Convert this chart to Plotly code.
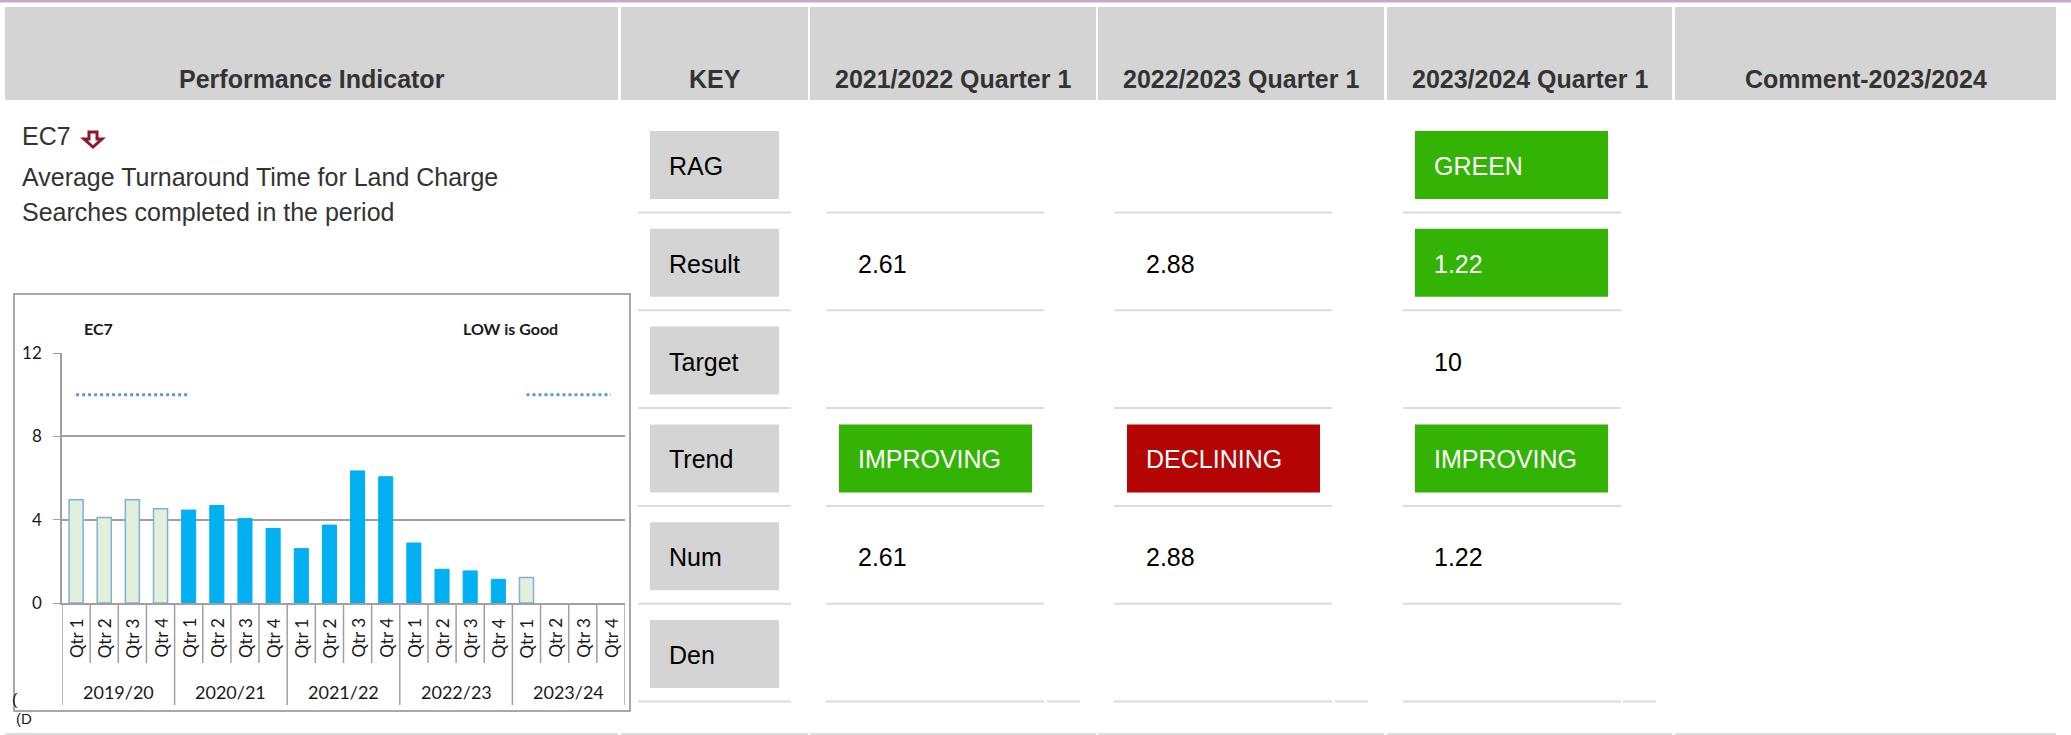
import plotly.graph_objects as go

W, H = 2071, 735

# ---- table data ----
header_labels = ["Performance Indicator", "KEY", "2021/2022 Quarter 1",
                 "2022/2023 Quarter 1", "2023/2024 Quarter 1", "Comment-2023/2024"]
indicator_code = "EC7"
indicator_desc = ["Average Turnaround Time for Land Charge",
                  "Searches completed in the period"]
key_labels = ["RAG", "Result", "Target", "Trend", "Num", "Den"]
rag = [None, None, "GREEN"]
result = ["2.61", "2.88", "1.22"]
target = [None, None, "10"]
trend = ["IMPROVING", "DECLINING", "IMPROVING"]
num = ["2.61", "2.88", "1.22"]
den = [None, None, None]

# ---- inset chart data ----
years = ["2019/20", "2020/21", "2021/22", "2022/23", "2023/24"]
quarters = ["Qtr 1", "Qtr 2", "Qtr 3", "Qtr 4"]
baseline_vals = [4.95, 4.1, 4.95, 4.52, None, None, None, None, None, None,
                 None, None, None, None, None, None, 1.22, None, None, None]
actual_vals = [None, None, None, None, 4.46, 4.68, 4.06, 3.58, 2.61, 3.74,
               6.34, 6.06, 2.88, 1.62, 1.54, 1.14, None, None, None, None]
target_vals = [10, 10, 10, 10, 10, None, None, None, None, None,
               None, None, None, None, None, None, 10, 10, 10, 10]

_GREY = "#d4d4d4"
_SEP = "#dcdcdc"
_GREEN = "#33b304"
_RED = "#b40404"
_TEXT = "#333333"
_FONT = "Liberation Sans, Arial, sans-serif"
_CFONT = "Lato, sans-serif"
_AX = "#a0a0a0"


def X(p):
    return p / W


def Y(p):
    return 1 - p / H


shapes = []
annotations = []


def rect(x0, y0, x1, y1, fill, line=None, lw=0, layer="below"):
    shapes.append(dict(type="rect", xref="paper", yref="paper",
                       x0=X(x0), x1=X(x1), y0=Y(y1), y1=Y(y0),
                       fillcolor=fill, layer=layer,
                       line=dict(color=line or fill, width=lw)))


def hline(x0, x1, y, color=_SEP, w=2):
    shapes.append(dict(type="line", xref="paper", yref="paper",
                       x0=X(x0), x1=X(x1), y0=Y(y), y1=Y(y), layer="below",
                       line=dict(color=color, width=w)))


def text(x, y, s, size=25, color="black", bold=False, xanchor="left", font=_FONT, **kw):
    annotations.append(dict(xref="paper", yref="paper", x=X(x), y=Y(y),
                            text=f"<b>{s}</b>" if bold else s, showarrow=False,
                            xanchor=xanchor, yanchor="middle",
                            font=dict(size=size, color=color, family=font), **kw))


# top border + header
rect(0, 0, W, 2.5, "#c9a9c9")
header_cols = [(5, 618), (621, 808), (810, 1096), (1098, 1384), (1387, 1672), (1675, 2056)]
for (x0, x1), lab in zip(header_cols, header_labels):
    rect(x0, 7, x1, 100, _GREY)
    text((x0 + x1) / 2, 79, lab, size=25, color=_TEXT, bold=True, xanchor="center")
    hline(x0, x1, 734)

# indicator description
text(20, 136, indicator_code, color=_TEXT)
shapes.append(dict(type="path", xref="paper", yref="paper", layer="below",
                   path=" ".join([
                       f"M {X(89)},{Y(132)} L {X(97)},{Y(132)} L {X(97)},{Y(139)}",
                       f"L {X(102)},{Y(139)} L {X(93)},{Y(147)} L {X(84)},{Y(139)}",
                       f"L {X(89)},{Y(139)} Z"]),
                   fillcolor="white", line=dict(color="#8b1a2b", width=3)))
for i, line in enumerate(indicator_desc):
    text(20, 177 + 35 * i, line, color=_TEXT)

# key column + values
row_top = [131 + 97.8 * i for i in range(6)]
col_box = [839, 1127, 1415]
sep_cols = [(638, 791), (826, 1044), (1114, 1332), (1403, 1621)]
rows = [rag, result, target, trend, num, den]
colour_of = {"GREEN": _GREEN, "IMPROVING": _GREEN, "DECLINING": _RED}
for i, (lab, vals) in enumerate(zip(key_labels, rows)):
    t = row_top[i]
    rect(650, t, 779, t + 68, _GREY)
    text(667, t + 35, lab)
    for j, v in enumerate(vals):
        if v is None:
            continue
        fill = colour_of.get(v)
        if lab == "Result" and rag[j]:
            fill = colour_of[rag[j]]
        if fill:
            rect(col_box[j], t, col_box[j] + 193, t + 68, fill)
        text(col_box[j] + 17, t + 35, v, color="white" if fill else "black")
    ys = t + 81.5
    for x0, x1 in sep_cols:
        hline(x0, x1, ys)
for x0 in (1047, 1335, 1623):
    hline(x0, x0 + 33, row_top[-1] + 81.5)

# inset chart frame
rect(14, 294, 630, 711, "white", line="#8c8c8c", lw=1.5)
text(82, 328, indicator_code, size=16, color="#1a1a1a", bold=True, font=_CFONT)
text(461, 328, "LOW is Good", size=16, color="#1a1a1a", bold=True, font=_CFONT)
# clipped glyphs peeking out under the inset
text(10, 699, "(", size=16, color="#1a1a1a")
text(14, 718, "(D", size=15, color="#1a1a1a")

cats = [f"{y} {q}" for y in years for q in quarters]

fig = go.Figure()
fig.add_trace(go.Bar(x=cats, y=baseline_vals, width=0.5,
                     marker=dict(color="#e2efda", line=dict(color="#7eb0e0", width=1.5))))
fig.add_trace(go.Bar(x=cats, y=actual_vals, width=0.5,
                     marker=dict(color="#00b0f0", line=dict(color="#00b0f0", width=1))))
fig.add_trace(go.Scatter(x=cats, y=target_vals, mode="lines",
                         line=dict(color="#5b9bd5", width=3, dash="dot")))

# category axis dividers + labels
for i in range(len(cats) + 1):
    bottom = 705 if i % len(quarters) == 0 else 663
    shapes.append(dict(type="line", xref="x", yref="paper", x0=i - 0.5, x1=i - 0.5,
                       y0=Y(603), y1=Y(bottom), line=dict(color=_AX, width=1.5)))
for i, c in enumerate(cats):
    annotations.append(dict(xref="x", yref="paper", x=i, y=Y(638), text=quarters[i % 4],
                            textangle=-90, showarrow=False, xanchor="center", yanchor="middle",
                            font=dict(size=17, color="#1a1a1a", family=_CFONT)))
for k, yr in enumerate(years):
    annotations.append(dict(xref="x", yref="paper", x=4 * k + 1.5, y=Y(692), text=yr,
                            showarrow=False, xanchor="center", yanchor="middle",
                            font=dict(size=18, color="#1a1a1a", family=_CFONT)))

fig.update_layout(
    width=W, height=H, autosize=False,
    margin=dict(l=0, r=0, t=0, b=0, pad=0, autoexpand=False),
    paper_bgcolor="white", plot_bgcolor="rgba(0,0,0,0)",
    showlegend=False, barmode="overlay",
    shapes=shapes, annotations=annotations,
    xaxis=dict(domain=[X(62), X(625)], range=[-0.5, 19.5], showticklabels=False,
               showgrid=False, showline=True, linecolor=_AX, linewidth=1.5,
               ticks="", fixedrange=True, automargin=False),
    yaxis=dict(domain=[Y(603), Y(353)], range=[0, 12], tickvals=[0, 4, 8, 12],
               showgrid=True, gridcolor=_AX, gridwidth=1.5, zeroline=False,
               showline=True, linecolor=_AX, linewidth=1.5, automargin=False,
               ticks="outside", ticklen=7, tickcolor=_AX, ticklabelstandoff=8,
               tickfont=dict(size=17, color="#1a1a1a", family=_CFONT)),
)

# page margin off so the figure fills the window exactly
fig.write_html("out.html", config={"responsive": False, "displayModeBar": False},
               post_script="document.body.style.margin='0';document.body.style.overflow='hidden';")
